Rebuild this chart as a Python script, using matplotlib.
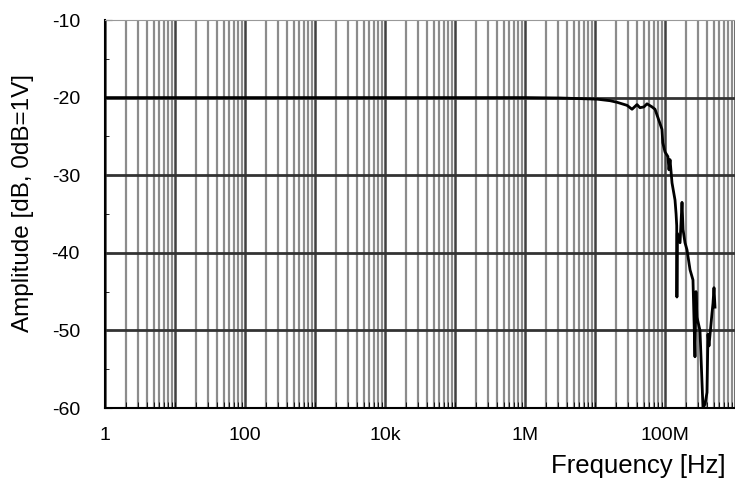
import numpy as np
import matplotlib.pyplot as plt
from matplotlib.ticker import LogLocator, FixedLocator, NullFormatter, MultipleLocator

plt.rcParams['font.family'] = ['Liberation Sans', 'DejaVu Sans']
plt.rcParams['axes.unicode_minus'] = False

# frequency response (Hz, dB)
freq = [1, 10, 100, 1e3, 1e4, 1e5, 1e6, 3.16e6, 10.7e6, 16.4e6, 20.6e6, 28.7e6,
        33.8e6, 39.8e6, 43.9e6, 50e6, 55.3e6, 65.2e6, 72e6, 79.4e6, 90.6e6,
        92.9e6, 100e6, 110e6, 114e6, 118e6, 126e6, 139e6, 144e6, 147e6, 148e6,
        150e6, 164e6, 175e6, 181e6, 193e6, 206e6, 228e6, 251e6, 268e6, 277e6,
        286e6, 316e6, 338e6, 349e6, 373e6, 398e6, 411e6, 425e6, 469e6, 485e6,
        501e6, 518e6]
amp = [-20.0, -20.0, -20.0, -20.0, -20.0, -20.0, -20.0, -20.05, -20.2, -20.4,
       -20.6, -21.0, -21.5, -20.9, -21.3, -21.2, -20.8, -21.2, -21.5, -22.6,
       -24.1, -25.8, -27.0, -27.6, -29.3, -28.0, -31.0, -33.2, -35.0, -36.5,
       -45.7, -37.5, -38.7, -33.5, -37.0, -38.7, -39.6, -42.2, -43.5, -53.4,
       -45.0, -48.3, -50.0, -56.8, -60.0, -59.5, -58.0, -50.5, -52.0, -47.8,
       -46.5, -44.5, -47.0]

xticks = [1, 100, 1e4, 1e6, 1e8]
xlabels = ['1', '100', '10k', '1M', '100M']
yticks = [-10, -20, -30, -40, -50, -60]

fig = plt.figure(figsize=(7.35, 4.9), dpi=100)
ax = fig.add_axes([105/735, 82/490, 1 - 105/735, 388/490])

# vertical grid: decades darker, 2..9 lighter
minors = [m * 10**d for d in range(0, 9) for m in range(2, 10)]
for f in minors:
    ax.axvline(f, color='#8c8c8c', lw=1.6, zorder=1)
for d in range(0, 10):
    ax.axvline(10**d, color='#404040', lw=1.8, zorder=1)
for y in [-20, -30, -40, -50]:
    ax.axhline(y, color='#333333', lw=2.0, zorder=2)

ax.plot(freq, amp, color='black', lw=2.0, zorder=3)

ax.set_xscale('log')
ax.set_xlim(1, 1e9)
ax.set_ylim(-60, -10)
ax.xaxis.set_major_locator(FixedLocator(xticks))
ax.set_xticklabels(xlabels)
ax.xaxis.set_minor_locator(LogLocator(base=10, subs=np.arange(1, 10), numticks=100))
ax.xaxis.set_minor_formatter(NullFormatter())
ax.set_yticks(yticks)
ax.yaxis.set_minor_locator(MultipleLocator(5))

ax.tick_params(axis='both', which='both', direction='in', labelsize=14, colors='black')
ax.tick_params(axis='x', which='major', length=0, pad=14)
ax.tick_params(axis='x', which='minor', length=4)
ax.tick_params(axis='y', which='major', length=5, pad=18)
ax.tick_params(axis='y', which='minor', length=3)

ax.spines['top'].set_color('#999999')
ax.spines['right'].set_visible(False)
ax.spines['left'].set_linewidth(1.5)
ax.spines['bottom'].set_linewidth(1.5)

ax.set_ylabel('Amplitude [dB, 0dB=1V]', fontsize=17.5)
ax.yaxis.set_label_coords(-0.113, 0.528)
fig.text(726/735, 1 - 466/490, 'Frequency [Hz]', fontsize=18.5, ha='right', va='center')

fig.savefig('out.png', dpi=100)
